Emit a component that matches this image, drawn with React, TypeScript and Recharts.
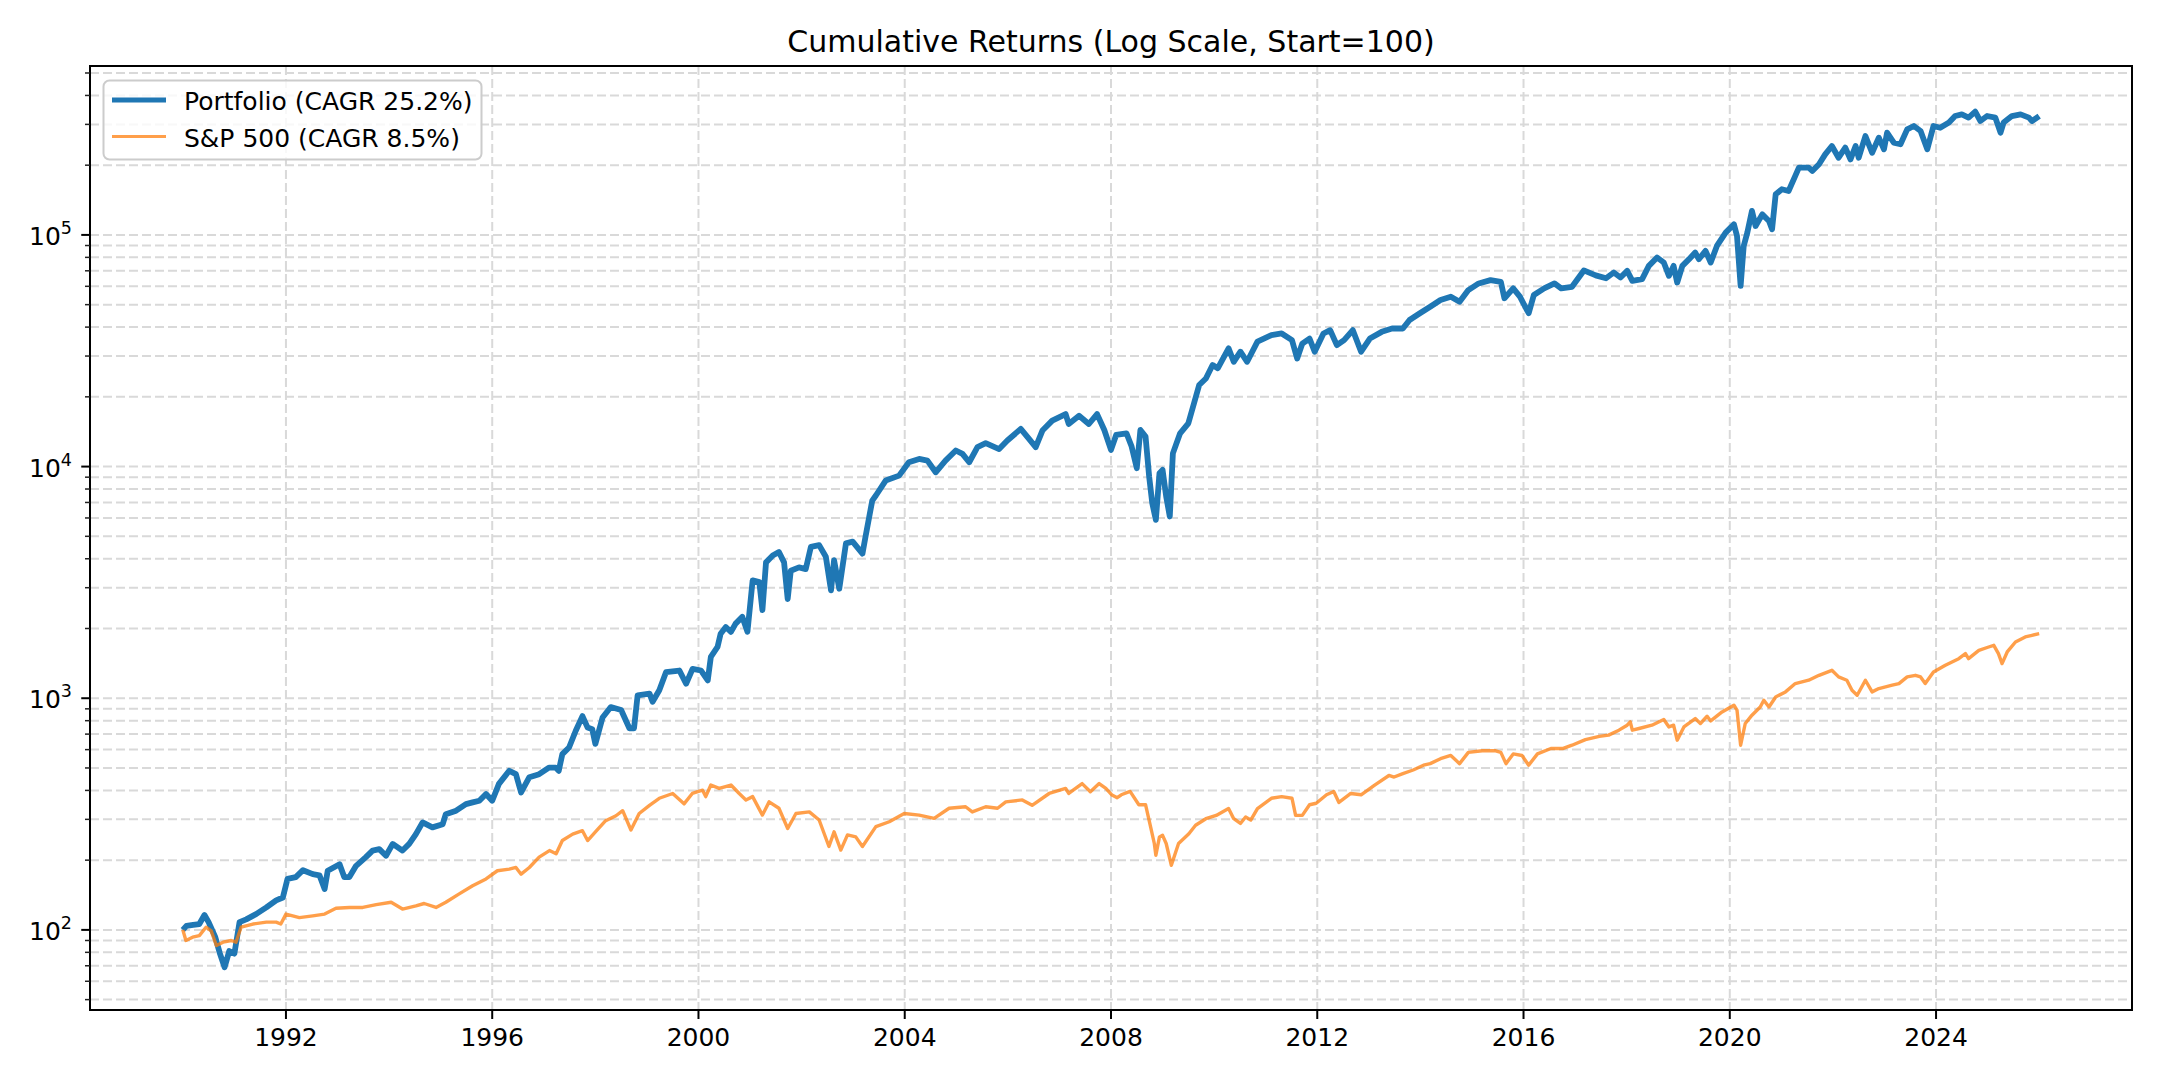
import React from "react";
import { LineChart, Line, XAxis, YAxis, CartesianGrid, ReferenceArea } from "recharts";

document.body.style.margin = "0";

const FONT = "DejaVu Sans";

// portfolio (fractional year -> value)
const PORTFOLIO_DATES = [
  1990.0, 1990.07, 1990.2, 1990.32, 1990.42, 1990.5, 1990.63, 1990.72, 1990.81, 1990.9,
  1991.0, 1991.1, 1991.23, 1991.42, 1991.62, 1991.81, 1991.94, 1992.03, 1992.19, 1992.33,
  1992.52, 1992.65, 1992.75, 1992.81, 1993.04, 1993.13, 1993.23, 1993.36, 1993.55, 1993.68,
  1993.81, 1993.94, 1994.07, 1994.26, 1994.39, 1994.52, 1994.65, 1994.84, 1995.04, 1995.1,
  1995.3, 1995.49, 1995.62, 1995.75, 1995.88, 1996.0, 1996.13, 1996.33, 1996.46, 1996.56,
  1996.72, 1996.91, 1997.1, 1997.23, 1997.29, 1997.36, 1997.49, 1997.62, 1997.75, 1997.85,
  1997.94, 1998.0, 1998.14, 1998.3, 1998.5, 1998.66, 1998.75, 1998.82, 1999.05, 1999.11,
  1999.24, 1999.37, 1999.63, 1999.76, 1999.885, 2000.05, 2000.18, 2000.24, 2000.37, 2000.43,
  2000.53, 2000.63, 2000.72, 2000.85, 2000.95, 2001.05, 2001.18, 2001.24, 2001.31, 2001.44,
  2001.56, 2001.66, 2001.73, 2001.79, 2001.95, 2002.08, 2002.18, 2002.34, 2002.47, 2002.57,
  2002.63, 2002.73, 2002.86, 2002.99, 2003.18, 2003.24, 2003.37, 2003.44, 2003.63, 2003.89,
  2004.08, 2004.28, 2004.44, 2004.6, 2004.79, 2004.99, 2005.12, 2005.25, 2005.41, 2005.57,
  2005.83, 2005.99, 2006.25, 2006.41, 2006.54, 2006.67, 2006.86, 2007.12, 2007.18, 2007.38,
  2007.57, 2007.73, 2007.87, 2008.0, 2008.1, 2008.3, 2008.4, 2008.5, 2008.57, 2008.67,
  2008.74, 2008.8, 2008.87, 2008.94, 2009.0, 2009.07, 2009.14, 2009.2, 2009.34, 2009.5,
  2009.61, 2009.71, 2009.84, 2009.97, 2010.07, 2010.28, 2010.38, 2010.51, 2010.64, 2010.84,
  2011.11, 2011.31, 2011.51, 2011.61, 2011.71, 2011.85, 2011.95, 2012.12, 2012.25, 2012.38,
  2012.52, 2012.69, 2012.85, 2013.02, 2013.25, 2013.45, 2013.66, 2013.79, 2013.99, 2014.19,
  2014.39, 2014.59, 2014.76, 2014.93, 2015.13, 2015.36, 2015.56, 2015.63, 2015.8, 2015.93,
  2016.1, 2016.2, 2016.4, 2016.6, 2016.73, 2016.94, 2017.17, 2017.4, 2017.6, 2017.75,
  2017.88, 2018.01, 2018.11, 2018.3, 2018.43, 2018.59, 2018.72, 2018.82, 2018.91, 2018.98,
  2019.08, 2019.21, 2019.33, 2019.4, 2019.53, 2019.63, 2019.75, 2019.92, 2020.08, 2020.14,
  2020.21, 2020.27, 2020.34, 2020.43, 2020.5, 2020.63, 2020.76, 2020.82, 2020.89, 2021.01,
  2021.14, 2021.27, 2021.34, 2021.53, 2021.6, 2021.73, 2021.85, 2021.98, 2022.11, 2022.24,
  2022.34, 2022.44, 2022.5, 2022.63, 2022.76, 2022.89, 2022.99, 2023.05, 2023.18, 2023.31,
  2023.44, 2023.57, 2023.7, 2023.83, 2023.95, 2024.08, 2024.25, 2024.37, 2024.5, 2024.63,
  2024.76, 2024.86, 2024.99, 2025.15, 2025.25, 2025.31, 2025.47, 2025.64, 2025.8, 2025.86,
  2026.0,
];
const PORTFOLIO_VALUES = [
  100, 104, 105, 106, 116, 108, 93, 79, 69, 81,
  79, 108, 111, 117, 125, 134, 138, 166, 169, 181,
  174, 172, 150, 180, 192, 169, 169, 189, 206, 220,
  223, 209, 235, 220, 235, 259, 291, 277, 286, 316,
  327, 349, 355, 361, 386, 361, 427, 486, 470, 392,
  456, 470, 502, 502, 486, 574, 613, 724, 837, 747,
  735, 635, 826, 916, 890, 742, 742, 1030, 1047, 965,
  1083, 1295, 1317, 1155, 1339, 1317, 1194, 1508, 1665, 1900,
  2030, 1935, 2100, 2245, 1935, 3225, 3172, 2400, 3860, 4130,
  4280, 3860, 2680, 3550, 3670, 3610, 4500, 4580, 4080, 2920,
  3945, 2970, 4660, 4740, 4210, 4990, 7130, 7500, 8700, 9140,
  10440, 10790, 10610, 9450, 10610, 11730, 11340, 10440, 12130, 12620,
  11900, 12960, 14540, 13170, 12130, 14300, 15790, 16850, 15270, 16570,
  15270, 16850, 14390, 11800, 13690, 13920, 12200, 9840, 14390, 13470,
  9050, 6950, 5890, 9360, 9670, 7430, 6090, 11400, 13920, 15370,
  18760, 22490, 24010, 27440, 26560, 32380, 28340, 31320, 28340, 34600,
  36930, 37540, 35120, 29290, 33970, 35700, 31320, 37540, 38800, 33420,
  35120, 38800, 31320, 35700, 38150, 39440, 39440, 42940, 45900, 49000,
  52380, 54120, 51480, 57800, 61740, 63820, 62770, 53270, 58750, 54120,
  45900, 55020, 58750, 61740, 58750, 59720, 70250, 66880, 65000, 68820,
  65480, 69950, 63360, 64410, 73530, 79880, 75980, 66560, 73530, 62300,
  73530, 78580, 83900, 78580, 85300, 75980, 89650, 102300, 111200, 99000,
  60240, 89650, 102300, 126900, 109300, 122700, 114900, 105800, 149700, 157400,
  154800, 179800, 195200, 195200, 188800, 201800, 222600, 242000, 215400, 238000,
  211900, 242000, 215400, 267300, 226300, 262900, 234100, 276300, 250200, 246200,
  285600, 295300, 281000, 234100, 295300, 290200, 305400, 326000, 331400, 320800,
  340500, 310200, 326000, 320800, 276300, 305400, 326000, 331400, 320800, 310200,
  326000,
];

// S&P 500
const SP500_DATES = [
  1990.0, 1990.06, 1990.19, 1990.32, 1990.45, 1990.55, 1990.65, 1990.78, 1990.94, 1991.03,
  1991.13, 1991.36, 1991.62, 1991.81, 1991.9, 1992.0, 1992.26, 1992.52, 1992.75, 1992.97,
  1993.23, 1993.49, 1993.75, 1994.04, 1994.26, 1994.52, 1994.68, 1994.91, 1995.1, 1995.36,
  1995.62, 1995.88, 1996.1, 1996.33, 1996.46, 1996.56, 1996.72, 1996.91, 1997.11, 1997.24,
  1997.36, 1997.56, 1997.75, 1997.85, 1998.01, 1998.2, 1998.4, 1998.53, 1998.69, 1998.85,
  1999.05, 1999.24, 1999.5, 1999.72, 1999.88, 2000.08, 2000.14, 2000.24, 2000.4, 2000.63,
  2000.79, 2000.92, 2001.05, 2001.24, 2001.37, 2001.56, 2001.73, 2001.89, 2002.15, 2002.34,
  2002.53, 2002.63, 2002.76, 2002.89, 2003.05, 2003.18, 2003.44, 2003.7, 2003.99, 2004.28,
  2004.57, 2004.86, 2005.18, 2005.31, 2005.57, 2005.8, 2005.96, 2006.28, 2006.47, 2006.8,
  2007.12, 2007.18, 2007.44, 2007.6, 2007.77, 2007.9, 2008.02, 2008.12, 2008.2, 2008.37,
  2008.54, 2008.67, 2008.77, 2008.84, 2008.87, 2008.94, 2009.0, 2009.07, 2009.17, 2009.31,
  2009.51, 2009.64, 2009.84, 2010.04, 2010.28, 2010.38, 2010.51, 2010.61, 2010.71, 2010.84,
  2011.11, 2011.31, 2011.51, 2011.58, 2011.71, 2011.85, 2011.98, 2012.18, 2012.32, 2012.42,
  2012.65, 2012.85, 2013.12, 2013.39, 2013.49, 2013.66, 2013.86, 2014.06, 2014.19, 2014.39,
  2014.59, 2014.76, 2014.93, 2015.2, 2015.46, 2015.56, 2015.66, 2015.8, 2015.97, 2016.1,
  2016.27, 2016.53, 2016.77, 2016.94, 2017.2, 2017.47, 2017.65, 2017.85, 2018.01, 2018.07,
  2018.11, 2018.24, 2018.49, 2018.72, 2018.82, 2018.91, 2018.98, 2019.11, 2019.33, 2019.43,
  2019.56, 2019.63, 2019.85, 2020.08, 2020.14, 2020.21, 2020.3, 2020.43, 2020.59, 2020.66,
  2020.76, 2020.89, 2021.08, 2021.27, 2021.53, 2021.73, 2021.98, 2022.11, 2022.27, 2022.37,
  2022.47, 2022.63, 2022.76, 2022.89, 2023.02, 2023.15, 2023.28, 2023.44, 2023.6, 2023.7,
  2023.79, 2023.95, 2024.18, 2024.44, 2024.57, 2024.63, 2024.83, 2025.02, 2025.12, 2025.21,
  2025.28, 2025.38, 2025.54, 2025.73, 2025.86, 2026.0,
];
const SP500_VALUES = [
  100, 90, 93, 94.5, 102.7, 99, 85.6, 88.5, 90, 88.5,
  102.7, 106, 108, 108, 106, 117, 113, 115, 117, 124,
  125, 125, 128.6, 131.6, 123, 127, 130, 125, 131.6, 143,
  155, 166, 180, 183, 186, 174, 186, 206, 220, 213,
  243, 259, 268, 243, 266, 296, 311, 327, 270, 318,
  345, 370, 388, 350, 388, 401, 376, 422, 408, 422,
  388, 364, 376, 313, 357, 335, 274, 318, 323, 298,
  229, 265, 221, 257, 252, 229, 279, 293, 318, 313,
  303, 335, 340, 323, 340, 335, 357, 364, 345, 388,
  408, 388, 428, 395, 428, 408, 382, 372, 383, 396,
  347, 347, 277, 236, 210, 252, 256, 236, 190, 236,
  260, 283, 302, 312, 334, 302, 288, 307, 298, 334,
  370, 376, 370, 312, 312, 347, 352, 383, 396, 355,
  388, 383, 423, 464, 457, 473, 490, 514, 522, 548,
  566, 522, 584, 593, 593, 584, 522, 575, 566, 514,
  575, 607, 607, 627, 663, 684, 693, 728, 765, 791,
  728, 740, 765, 809, 752, 765, 659, 752, 817, 778,
  836, 798, 873, 933, 888, 627, 778, 845, 917, 980,
  917, 1013, 1065, 1157, 1196, 1256, 1320, 1236, 1196, 1083,
  1030, 1196, 1065, 1101, 1119, 1138, 1157, 1236, 1256, 1236,
  1157, 1299, 1388, 1482, 1558, 1482, 1610, 1664, 1692, 1558,
  1411, 1584, 1749, 1839, 1869, 1900,
];

const X_TICKS = [1992, 1996, 2000, 2004, 2008, 2012, 2016, 2020, 2024];
const Y_TICKS = [
  50, 60, 70, 80, 90, 100,
  200, 300, 400, 500, 600, 700, 800, 900, 1000,
  2000, 3000, 4000, 5000, 6000, 7000, 8000, 9000, 10000,
  20000, 30000, 40000, 50000, 60000, 70000, 80000, 90000, 100000,
  200000, 300000, 400000, 500000,
];

const X_DOMAIN = [1988.2, 2027.8];
const Y_DOMAIN = [45.1, 536000];

const SERIES = [
  { name: "Portfolio (CAGR 25.2%)", color: "#1f77b4", width: 5, plotWidth: 5.8, opacity: 1 },
  { name: "S&P 500 (CAGR 8.5%)", color: "#ff7f0e", width: 3, plotWidth: 3.4, opacity: 0.75 },
];

const portfolioData = PORTFOLIO_DATES.map((d, i) => ({ date: d, value: PORTFOLIO_VALUES[i] }));
const spData = SP500_DATES.map((d, i) => ({ date: d, value: SP500_VALUES[i] }));

const PLOT_LEFT = 90;

function YTick(props: any) {
  const { y, payload } = props;
  const v = payload.value;
  const lg = Math.log10(v);
  const exp = Math.round(lg);
  const major = Math.abs(lg - exp) < 1e-6;
  return (
    <g>
      <line
        x1={PLOT_LEFT - (major ? 8.75 : 5)}
        x2={PLOT_LEFT}
        y1={y}
        y2={y}
        stroke={major ? "#000" : "#222"}
        strokeWidth={major ? 2 : 1.5}
      />
      {major && (
        <text x={72} y={y + 10} textAnchor="end" fontFamily={FONT} fontSize={25} fill="#000">
          <tspan>10</tspan>
          <tspan dy={-11} fontSize={17.5}>{exp}</tspan>
        </text>
      )}
    </g>
  );
}

export default function App() {
  return (
    <div style={{ position: "relative", width: 2160, height: 1080, background: "#fff" }}>
      <LineChart width={2160} height={1080} margin={{ top: 66, right: 28, bottom: 0, left: 0 }}>
        <CartesianGrid stroke="#d9d9d9" strokeWidth={2} strokeDasharray="9 4" />
        <XAxis
          type="number"
          dataKey="date"
          domain={X_DOMAIN}
          ticks={X_TICKS}
          interval={0}
          allowDataOverflow
          height={70}
          tickSize={9}
          tickMargin={9}
          axisLine={false}
          tickLine={{ stroke: "#000", strokeWidth: 2 }}
          tick={{ fontFamily: FONT, fontSize: 25, fill: "#000" }}
        />
        <YAxis
          type="number"
          dataKey="value"
          scale="log"
          domain={Y_DOMAIN}
          ticks={Y_TICKS}
          interval={0}
          allowDataOverflow
          width={90}
          axisLine={false}
          tickLine={false}
          tick={<YTick />}
        />
        <Line
          data={portfolioData}
          dataKey="value"
          type="linear"
          stroke={SERIES[0].color}
          strokeWidth={SERIES[0].plotWidth}
          strokeLinejoin="round"
          dot={false}
          isAnimationActive={false}
        />
        <Line
          data={spData}
          dataKey="value"
          type="linear"
          stroke={SERIES[1].color}
          strokeOpacity={SERIES[1].opacity}
          strokeWidth={SERIES[1].plotWidth}
          strokeLinejoin="round"
          dot={false}
          isAnimationActive={false}
        />
        <ReferenceArea
          x1={X_DOMAIN[0]}
          x2={X_DOMAIN[1]}
          y1={Y_DOMAIN[0]}
          y2={Y_DOMAIN[1]}
          fill="none"
          stroke="#000"
          strokeWidth={2}
          fillOpacity={0}
        />
      </LineChart>
      <svg
        width={2160}
        height={1080}
        style={{ position: "absolute", left: 0, top: 0, pointerEvents: "none" }}
      >
        <text x={1111} y={51.5} textAnchor="middle" fontFamily={FONT} fontSize={30} fill="#000">
          Cumulative Returns (Log Scale, Start=100)
        </text>
        <rect x={103.5} y={80.5} width={378} height={79} rx={6} fill="#fff" fillOpacity={0.8} stroke="#cccccc" strokeWidth={2} />
        {SERIES.map((s, i) => (
          <g key={s.name}>
            <line
              x1={112}
              x2={166}
              y1={100 + i * 36.5}
              y2={100 + i * 36.5}
              stroke={s.color}
              strokeOpacity={s.opacity}
              strokeWidth={s.width}
            />
            <text x={184} y={110 + i * 36.5} fontFamily={FONT} fontSize={25} fill="#000">
              {s.name}
            </text>
          </g>
        ))}
      </svg>
    </div>
  );
}
